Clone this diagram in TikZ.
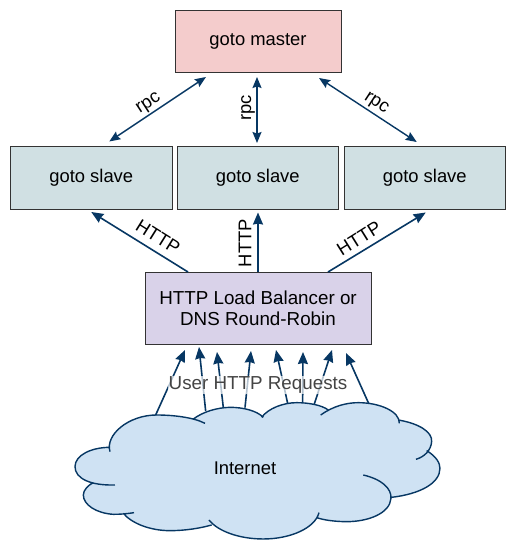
\documentclass[tikz,border=0pt]{standalone}
\usepackage{fontspec}
\setmainfont{Liberation Sans}
\usetikzlibrary{arrows.meta}
\definecolor{masterfill}{HTML}{F4CCCC}
\definecolor{slavefill}{HTML}{D0E0E3}
\definecolor{lbfill}{HTML}{D9D2E9}
\definecolor{cloudfill}{HTML}{CFE2F3}
\definecolor{linkblue}{HTML}{073763}
\definecolor{labelgray}{HTML}{444444}
\tikzset{
    box/.style={draw=black!80, line width=0.9pt, inner sep=0pt, outer sep=0pt, align=center, font=\fontsize{18.4}{21.5}\selectfont},
    masterbox/.style={box, fill=masterfill, minimum width=166pt, minimum height=62pt},
    slavebox/.style={box, fill=slavefill, minimum width=161.5pt, minimum height=63.5pt},
    lbbox/.style={box, fill=lbfill, minimum width=226pt, minimum height=72pt, font=\fontsize{18.8}{21}\selectfont},
    rpclink/.style={draw=linkblue, line width=1.4pt, {Stealth[length=11pt,width=9pt,inset=1.5pt]}-{Stealth[length=11pt,width=9pt,inset=1.5pt]}},
    httplink/.style={draw=linkblue, line width=1.6pt, -{Stealth[length=12pt,width=10pt,inset=1pt]}},
    edgelabel/.style={font=\fontsize{18.4}{21}\selectfont, inner sep=0pt},
}
% one lobe after the other, #1 joins them (-- for the fill, nothing for the outline)
\newcommand{\cloudlobes}[1]{
    (150,335) .. controls (135,285) and (205,225) .. (290,225) .. controls (340,225) and (400,232) .. (435,250) #1
    (400,237) .. controls (430,215) and (470,203) .. (510,202) .. controls (550,202) and (590,212) .. (610,232) #1
    (605,232) .. controls (625,205) and (670,188) .. (710,188) .. controls (745,188) and (785,195) .. (805,210) #1
    (782,225) .. controls (820,198) and (860,188) .. (895,188) .. controls (960,188) and (1020,215) .. (1018,250) #1
    (1015,240) .. controls (1075,250) and (1118,275) .. (1115,305) .. controls (1113,330) and (1095,350) .. (1068,358) #1
    (1100,332) .. controls (1130,350) and (1140,370) .. (1140,385) .. controls (1140,430) and (1080,462) .. (995,472) #1
    (910,405) .. controls (965,418) and (995,445) .. (993,475) .. controls (990,520) and (925,545) .. (860,545) .. controls (825,545) and (790,540) .. (770,533) #1
    (777,518) .. controls (765,565) and (690,597) .. (610,597) .. controls (540,597) and (475,575) .. (447,540) #1
    (455,555) .. controls (420,565) and (375,572) .. (330,572) .. controls (270,572) and (215,550) .. (190,520) #1
    (222,518) .. controls (195,522) and (180,523) .. (160,523) .. controls (110,520) and (70,495) .. (70,465) .. controls (70,450) and (85,435) .. (100,428) #1
    (165,435) .. controls (90,437) and (45,415) .. (45,380) .. controls (45,345) and (95,322) .. (150,322)
}
\begin{document}
\begin{tikzpicture}[x=1pt, y=-1pt]
    \useasboundingbox (0,0) rectangle (517,553);

    % Boxes
    \node[masterbox] (master) at (258,41) {\raisebox{-2pt}{goto master}};
    \node[slavebox] (slaveL) at (91.25,177.75) {\raisebox{-1.5pt}{goto slave}};
    \node[slavebox] (slaveC) at (257.75,177.75) {\raisebox{-1.5pt}{goto slave}};
    \node[slavebox] (slaveR) at (424.75,177.75) {\raisebox{-1.5pt}{goto slave}};
    \node[lbbox] (balancer) at (258,308) {HTTP Load Balancer or\\DNS Round-Robin};

    % Cloud
    \begin{scope}[shift={(60,340)}, x=0.3333pt, y=-0.3333pt]
        \fill[cloudfill] \cloudlobes{--} -- cycle;
        \draw[linkblue, line width=1.4pt] \cloudlobes{};
        \node[edgelabel] (internet) at (555,384) {Internet};
        \coordinate (out1) at (287,225);
        \coordinate (out2) at (437,213);
        \coordinate (out3) at (490,203);
        \coordinate (out4) at (555,203);
        \coordinate (out5) at (683,190);
        \coordinate (out6) at (728,188);
        \coordinate (out7) at (763,192);
        \coordinate (out8) at (926,190);
    \end{scope}

    % rpc links
    \draw[rpclink] ([xshift=18pt,yshift=4.5pt]slaveL.north) -- ([xshift=-52pt,yshift=-5pt]master.south);
    \draw[rpclink] ([xshift=-0.75pt,yshift=3pt]slaveC.north) -- ([xshift=-1pt,yshift=-5pt]master.south);
    \draw[rpclink] ([xshift=-8pt,yshift=4pt]slaveR.north) -- ([xshift=61pt,yshift=-6pt]master.south);
    \node[edgelabel, rotate=33] (rpcL) at (149,104) {rpc};
    \node[edgelabel, rotate=90] (rpcC) at (248,108) {rpc};
    \node[edgelabel, rotate=-33] (rpcR) at (376,104) {rpc};

    % HTTP links
    \draw[httplink] ([xshift=-70pt]balancer.north) -- ([yshift=-2.5pt]slaveL.south);
    \draw[httplink] (balancer.north) -- ([xshift=0.25pt,yshift=-3pt]slaveC.south);
    \draw[httplink] ([xshift=70pt]balancer.north) -- ([xshift=1pt,yshift=-3pt]slaveR.south);
    \node[edgelabel, rotate=-32] (httpL) at (158,237) {HTTP};
    \node[edgelabel, rotate=90] (httpC) at (245,243) {HTTP};
    \node[edgelabel, rotate=32] (httpR) at (359,238) {HTTP};

    % User requests
    \draw[httplink] (out1) -- ([xshift=-73pt,yshift=-6pt]balancer.south);
    \draw[httplink] (out2) -- ([xshift=-59pt,yshift=-3pt]balancer.south);
    \draw[httplink] (out3) -- ([xshift=-41pt,yshift=-8pt]balancer.south);
    \draw[httplink] (out4) -- ([xshift=-7pt,yshift=-7pt]balancer.south);
    \draw[httplink] (out5) -- ([xshift=18pt,yshift=-6pt]balancer.south);
    \draw[httplink] (out6) -- ([xshift=45pt,yshift=-8pt]balancer.south);
    \draw[httplink] (out7) -- ([xshift=74pt,yshift=-6pt]balancer.south);
    \draw[httplink] (out8) -- ([xshift=88pt,yshift=-9pt]balancer.south);
    \node[edgelabel, font=\fontsize{18.8}{21}\selectfont, text=labelgray, fill=white, fill opacity=0.7, text opacity=1, inner sep=1pt] (requests) at (258,385) {User HTTP Requests};
\end{tikzpicture}
\end{document}
